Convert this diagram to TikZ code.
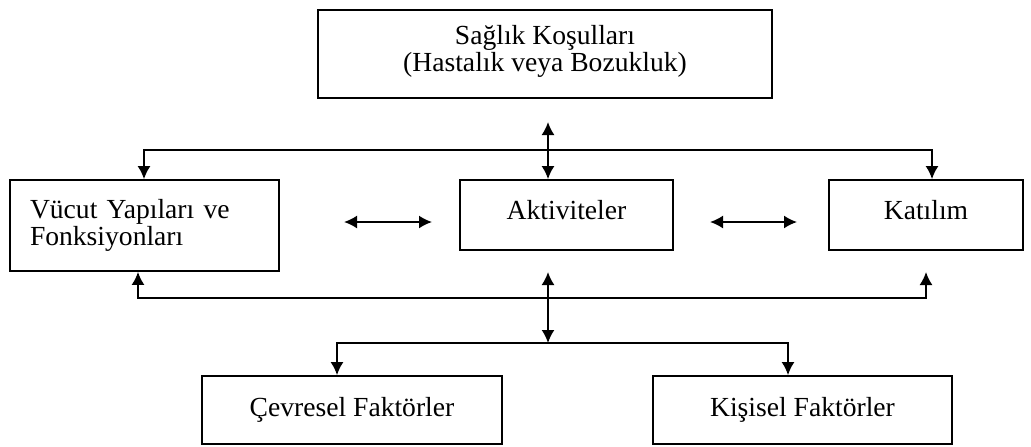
\documentclass[tikz,border=0pt]{standalone}
\usepackage{fontspec}
\setmainfont{Liberation Serif}
\usepackage{tikz}
\usetikzlibrary{arrows.meta,positioning}
\tikzstyle{box} = [rectangle, draw=black, line width=0.9pt, fill=white, text=black, inner sep=0pt, font=\fontsize{13.8}{13.5}\selectfont, align=center]
\tikzstyle{tedge} = [draw, line width=0.9pt, >={Latex[length=6.5pt,width=6.5pt]}, <->]

\begin{document}
\begin{tikzpicture}[x=0.5pt, y=-0.5pt]
\useasboundingbox (0,0) rectangle (1031,446);

% boxes =============================
\node[box, minimum width=227pt, minimum height=44pt] (health) at (545,54) {Sağlık Koşulları\\(Hastalık veya Bozukluk)\\[-8pt]};
\node[box, minimum width=134.5pt, minimum height=45.5pt, text width=114.5pt, inner xsep=10pt, align=left] (body) at (144.5,225.5) {Vücut Yapıları ve\\Fonksiyonları};
\node[box, minimum width=106.5pt, minimum height=35pt] (act) at (566.5,215) {Aktiviteler\\[-8pt]};
\node[box, minimum width=97pt, minimum height=35pt] (part) at (926,215) {Katılım\\[-8pt]};
\node[box, minimum width=150pt, minimum height=34pt] (env) at (352,410) {Çevresel Faktörler\\[-10pt]};
\node[box, minimum width=149.5pt, minimum height=34pt] (pers) at (802.5,410) {Kişisel Faktörler\\[-10pt]};

% bus points
\coordinate (topTip) at (548,122);
\coordinate (upL) at (144,150);
\coordinate (upR) at (932,150);
\coordinate (loL) at (138,298);
\coordinate (loR) at (926,298);
\coordinate (loTipR) at (926,272);
\coordinate (midTop) at (548,272);
\coordinate (midBot) at (548,343);
\coordinate (splL) at (337,343);
\coordinate (splR) at (788,343);
\coordinate (hL1) at (344,222);
\coordinate (hL2) at (432,222);
\coordinate (hR1) at (710,222);
\coordinate (hR2) at (797,222);

% edges
\path[tedge] (topTip) -- (act.north -| topTip);
\path[tedge] (body.north -| upL) -- (upL) -- (upR) -- (part.north -| upR);
\path[tedge] (body.south -| loL) -- (loL) -- (loR) -- (loTipR);
\path[tedge] (midTop) -- (midBot);
\path[tedge] (env.north -| splL) -- (splL) -- (splR) -- (pers.north -| splR);
\path[tedge] (hL1) -- (hL2);
\path[tedge] (hR1) -- (hR2);

\end{tikzpicture}
\end{document}
